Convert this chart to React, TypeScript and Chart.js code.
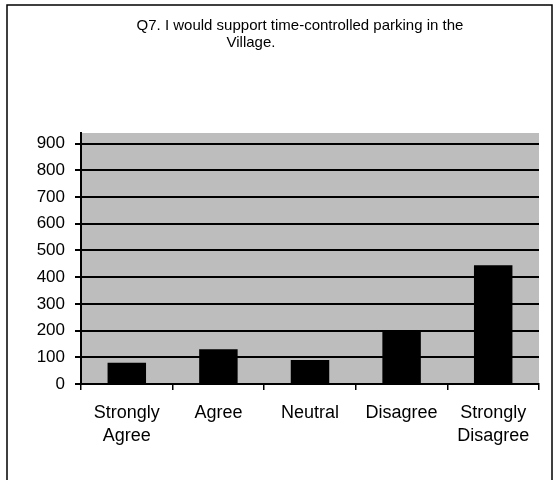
import React, { useEffect, useRef } from "react";
import { Chart, registerables } from "chart.js";

Chart.register(...registerables);

const categories: string[][] = [
  ["Strongly", "Agree"],
  ["Agree"],
  ["Neutral"],
  ["Disagree"],
  ["Strongly", "Disagree"],
];
const responses: number[] = [80, 130, 90, 200, 445];
const yTicks: number[] = [0, 100, 200, 300, 400, 500, 600, 700, 800, 900];
const titleLines: string[] = ["Q7. I would support time-controlled parking in the", "Village."];

const FONT = "'Liberation Sans', Arial, sans-serif";

const framePlugin = {
  id: "frame",
  beforeDraw(chart: any) {
    const ctx = chart.ctx;
    const area = chart.chartArea;
    ctx.save();
    ctx.fillStyle = "#ffffff";
    ctx.fillRect(0, 0, chart.width, chart.height);
    ctx.strokeStyle = "#000000";
    ctx.lineWidth = 1.5;
    ctx.strokeRect(7, 5, 545, 490);
    ctx.fillStyle = "#bdbdbd";
    ctx.fillRect(area.left, area.top, area.right - area.left, area.bottom - area.top);
    ctx.restore();
  },
  afterDraw(chart: any) {
    const ctx = chart.ctx;
    ctx.save();
    ctx.fillStyle = "#000000";
    ctx.font = "15px " + FONT;
    ctx.textAlign = "center";
    ctx.textBaseline = "alphabetic";
    ctx.fillText(titleLines[0], 300, 30);
    ctx.fillText(titleLines[1], 251, 47);
    ctx.restore();
  },
};

export default function App() {
  const ref = useRef<HTMLCanvasElement | null>(null);
  useEffect(() => {
    if (!ref.current) return;
    const chart = new Chart(ref.current, {
      type: "bar",
      data: {
        labels: categories,
        datasets: [
          {
            data: responses,
            backgroundColor: "#000000",
            borderWidth: 0,
            categoryPercentage: 1,
            barPercentage: 0.42,
          },
        ],
      },
      options: {
        animation: false,
        responsive: false,
        devicePixelRatio: 1,
        layout: { padding: { left: 0, right: 19, top: 133, bottom: 0 } },
        plugins: { legend: { display: false }, title: { display: false }, tooltip: { enabled: false } },
        scales: {
          x: {
            offset: true,
            grid: {
              display: true,
              offset: true,
              drawOnChartArea: false,
              drawTicks: true,
              tickLength: 6,
              color: "#000000",
              lineWidth: 1.5,
            },
            border: { display: true, color: "#000000", width: 2 },
            ticks: {
              color: "#000000",
              font: { family: FONT, size: 18, lineHeight: 1.3 },
              padding: 11,
              maxRotation: 0,
              autoSkip: false,
            },
            afterFit(scale: any) {
              scale.height = 96;
            },
          },
          y: {
            min: 0,
            max: 940,
            afterBuildTicks(scale: any) {
              scale.ticks = yTicks.map((v) => ({ value: v }));
            },
            grid: {
              color: "#000000",
              lineWidth: 2,
              drawTicks: true,
              tickLength: 6,
            },
            border: { display: true, color: "#000000", width: 2 },
            ticks: {
              color: "#000000",
              font: { family: FONT, size: 17 },
              padding: 10,
            },
            afterFit(scale: any) {
              scale.width = 81;
            },
          },
        },
      },
      plugins: [framePlugin],
    });
    return () => chart.destroy();
  }, []);
  return (
    <div style={{ position: "fixed", left: 0, top: 0, width: 558, height: 480 }}>
      <canvas ref={ref} width={558} height={480} style={{ width: 558, height: 480, display: "block" }} />
    </div>
  );
}
